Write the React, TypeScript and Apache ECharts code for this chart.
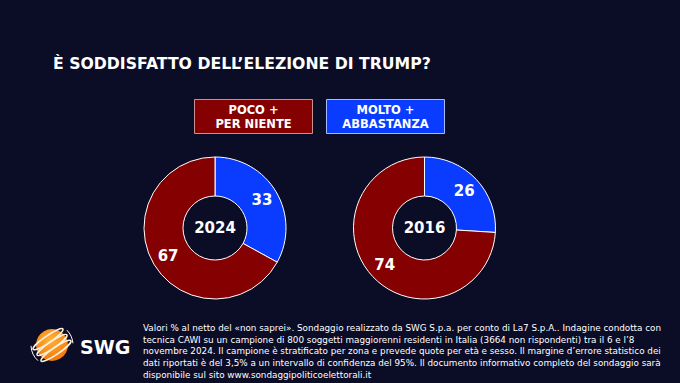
import React, { useEffect, useRef } from "react";
import * as echarts from "echarts";

const years = ["2024", "2016"];
const categories = ["MOLTO +\nABBASTANZA", "POCO +\nPER NIENTE"];
const moltoValues = [33, 26];
const pocoValues = [67, 74];
const titleText = "È SODDISFATTO DELL’ELEZIONE DI TRUMP?";
const footerLines = [
  "Valori % al netto del «non saprei». Sondaggio realizzato da SWG S.p.a. per conto di La7 S.p.A.. Indagine condotta con",
  "tecnica CAWI su un campione di 800 soggetti maggiorenni residenti in Italia (3664 non rispondenti) tra il 6 e l’8",
  "novembre 2024. Il campione è stratificato per zona e prevede quote per età e sesso. Il margine d’errore statistico dei",
  "dati riportati è del 3,5% a un intervallo di confidenza del 95%. Il documento informativo completo del sondaggio sarà",
  "disponibile sul sito www.sondaggipoliticoelettorali.it",
];

const BG = "#0b0c26";
const RED = "#850000";
const BLUE = "#0a3cff";
const FONT = "'DejaVu Sans', Verdana, sans-serif";

export default function App() {
  const ref = useRef<HTMLDivElement>(null);
  useEffect(() => {
    if (!ref.current) return;
    const chart = echarts.init(ref.current, null, { renderer: "svg" });
    const centers = [215, 424.5];
    const series = years.map((y, i) => ({
      type: "pie",
      center: [centers[i], 228],
      radius: [32, 71],
      startAngle: 90,
      clockwise: true,
      silent: true,
      label: {
        show: true,
        position: "inside",
        formatter: "{c}",
        color: "#ffffff",
        fontFamily: FONT,
        fontWeight: "bold",
        fontSize: 15,
      },
      labelLine: { show: false },
      itemStyle: { borderColor: "#ffffff", borderWidth: 1 },
      data: [
        { name: categories[0], value: moltoValues[i], itemStyle: { color: BLUE } },
        { name: categories[1], value: pocoValues[i], itemStyle: { color: RED } },
      ],
    }));

    const cx = 52;
    const cy = 345;
    const graphics: any[] = [
      {
        type: "text",
        x: 53,
        y: 63,
        style: {
          text: titleText,
          fill: "#ffffff",
          font: `bold 15.7px ${FONT}`,
          verticalAlign: "middle",
        },
      },
      {
        type: "rect",
        shape: { x: 194.5, y: 99.5, width: 118, height: 34 },
        style: { fill: RED, stroke: "#c89090", lineWidth: 1 },
      },
      {
        type: "text",
        x: 253.5,
        y: 117,
        style: {
          text: categories[1],
          fill: "#ffffff",
          font: `bold 11.5px ${FONT}`,
          align: "center",
          verticalAlign: "middle",
          lineHeight: 14,
        },
      },
      {
        type: "rect",
        shape: { x: 326.5, y: 99.5, width: 118, height: 34 },
        style: { fill: BLUE, stroke: "#a8b8ff", lineWidth: 1 },
      },
      {
        type: "text",
        x: 385.5,
        y: 117,
        style: {
          text: categories[0],
          fill: "#ffffff",
          font: `bold 11.5px ${FONT}`,
          align: "center",
          verticalAlign: "middle",
          lineHeight: 14,
        },
      },
      ...years.map((y, i) => ({
        type: "text",
        x: centers[i],
        y: 228,
        style: {
          text: y,
          fill: "#ffffff",
          font: `bold 15px ${FONT}`,
          align: "center",
          verticalAlign: "middle",
        },
      })),
      ...footerLines.map((t, i) => ({
        type: "text",
        x: 143,
        y: 328 + i * 11.7,
        style: {
          text: t,
          fill: "#ffffff",
          font: `8.8px ${FONT}`,
          verticalAlign: "middle",
        },
      })),
      // logo
      {
        type: "circle",
        shape: { cx, cy, r: 16 },
        style: {
          fill: new echarts.graphic.RadialGradient(0.45, 0.35, 0.8, [
            { offset: 0, color: "#ffb23a" },
            { offset: 1, color: "#f06a00" },
          ]),
        },
      },
      ...[-7, 0, 7].map((d) => ({
        type: "ellipse",
        x: cx,
        y: cy,
        rotation: 0.6,
        shape: { cx: 0, cy: d, rx: 18, ry: 3.5 },
        style: { fill: "none", stroke: "#fff1dc", lineWidth: 1.6 },
      })),
      {
        type: "arc",
        shape: { cx, cy, r: 21, startAngle: 2.3, endAngle: 3.1 },
        style: { fill: "none", stroke: "#ffffff", lineWidth: 1 },
      },
      {
        type: "arc",
        shape: { cx, cy, r: 21, startAngle: 5.5, endAngle: 6.2 },
        style: { fill: "none", stroke: "#ffffff", lineWidth: 1 },
      },
      {
        type: "text",
        x: 80,
        y: 347,
        style: {
          text: "SWG",
          fill: "#ffffff",
          font: `bold 19px ${FONT}`,
          verticalAlign: "middle",
        },
      },
    ];

    chart.setOption({
      animation: false,
      backgroundColor: BG,
      series,
      graphic: graphics,
    });
    return () => chart.dispose();
  }, []);
  return (
    <div
      ref={ref}
      style={{ position: "absolute", left: 0, top: 0, width: 680, height: 383 }}
    />
  );
}
